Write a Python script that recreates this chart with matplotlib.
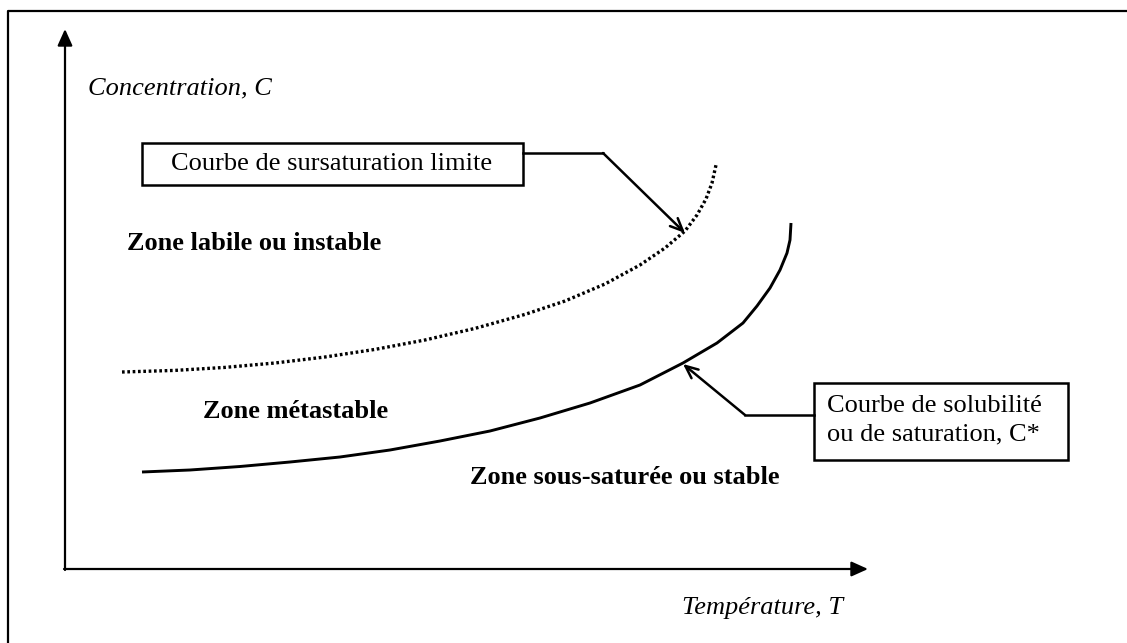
import numpy as np
import matplotlib.pyplot as plt

# curve points (T, C in diagram units, origin at axes corner)
t_limit = [57, 110, 160, 210, 260, 310, 360, 410, 460, 500, 540, 575, 600, 620, 632, 641, 647, 651]
c_limit = [197, 198.6, 201.6, 206, 212, 219.6, 229, 240.6, 254.6, 268, 285, 304, 321, 338, 354, 370, 386, 404]

t_solub = [77, 125, 175, 225, 275, 325, 375, 425, 475, 525, 575, 618, 652, 678, 692, 705, 715, 722, 725, 726]
c_solub = [97, 99, 102.5, 107, 112, 119, 128, 138, 151, 166, 184, 206, 226, 246, 263, 281, 299, 316, 329, 346]

x_label = "Température, T"
y_label = "Concentration, C"
zones = ["Zone labile ou instable", "Zone métastable", "Zone sous-saturée ou stable"]
box_limit = "Courbe de sursaturation limite"
box_solub = "Courbe de solubilité\nou de saturation, C*"

plt.rcParams['font.family'] = ['Liberation Serif', 'DejaVu Serif']

fig = plt.figure(figsize=(11.27, 6.43), dpi=100)
ax = fig.add_axes([0, 0, 1, 1])
ax.set_xlim(-65, 1062)
ax.set_ylim(-74, 569)
ax.axis('off')

# outer frame (left and top edges only)
ax.plot([-57, -57, 1062], [-74, 558, 558], color='k', lw=1.6)

# axes with filled arrow heads
head = '-|>,head_length=1.0,head_width=0.45'
ax.annotate('', xy=(0, 540), xytext=(0, -1),
            arrowprops=dict(arrowstyle=head, lw=1.6, color='k', shrinkA=0, shrinkB=0))
ax.annotate('', xy=(803, 0), xytext=(-1, 0),
            arrowprops=dict(arrowstyle=head, lw=1.6, color='k', shrinkA=0, shrinkB=0))

# curves
ax.plot(t_limit, c_limit, color='k', lw=2.4, linestyle=(0, (0.8, 0.8)), dash_capstyle='butt')
ax.plot(t_solub, c_solub, color='k', lw=2.1, solid_capstyle='butt', solid_joinstyle='round')

# axis labels
ax.text(23, 481, y_label, fontsize=19, style='italic', ha='left', va='center')
ax.text(697, -39, x_label, fontsize=19, style='italic', ha='center', va='center')

# zone labels
ax.text(62, 326, zones[0], fontsize=19, weight='bold', ha='left', va='center')
ax.text(138, 157, zones[1], fontsize=19, weight='bold', ha='left', va='center')
ax.text(560, 91, zones[2], fontsize=19, weight='bold', ha='center', va='center')

# callout boxes
ax.add_patch(plt.Rectangle((77, 384), 381, 42, fill=False, lw=1.8, ec='k'))
ax.text(267, 405, box_limit, fontsize=19, ha='center', va='center')
ax.add_patch(plt.Rectangle((749, 109), 254, 77, fill=False, lw=1.8, ec='k'))
ax.text(762, 149, box_solub, fontsize=19, ha='left', va='center', linespacing=1.4)

# callout leaders
vhead = '->,head_length=0.9,head_width=0.4'
ax.plot([458, 538], [416, 416], color='k', lw=1.8)
ax.annotate('', xy=(620, 336), xytext=(538, 416),
            arrowprops=dict(arrowstyle=vhead, lw=1.8, color='k', shrinkA=0, shrinkB=0))
ax.plot([749, 680], [154, 154], color='k', lw=1.8)
ax.annotate('', xy=(618, 205), xytext=(680, 154),
            arrowprops=dict(arrowstyle=vhead, lw=1.8, color='k', shrinkA=0, shrinkB=0))

fig.savefig('out.png', dpi=100)
